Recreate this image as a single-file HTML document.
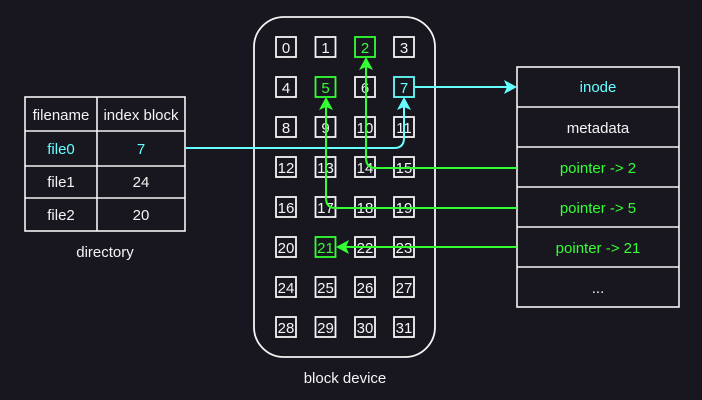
<!DOCTYPE html>
<html><head><meta charset="utf-8"><style>
html,body{margin:0;padding:0;background:#18161f;}
svg{display:block}
text{font-family:"Liberation Sans",Arial,sans-serif;font-size:15px;}
</style></head><body>
<svg width="702" height="400" viewBox="0 0 702 400" xmlns="http://www.w3.org/2000/svg">
<rect width="702" height="400" fill="#18161f"/>
<g stroke="#f4f4f4" stroke-width="1.6" fill="none">
<rect x="25" y="97" width="160" height="134"/>
<line x1="97" y1="97" x2="97" y2="231"/>
<line x1="25" y1="131" x2="185" y2="131"/>
<line x1="25" y1="166" x2="185" y2="166"/>
<line x1="25" y1="198" x2="185" y2="198"/>
</g>
<g text-anchor="middle" fill="#f4f4f4">
<text x="61" y="120">filename</text><text x="141" y="120">index block</text>
<text x="61" y="154" fill="#66ffff">file0</text><text x="141" y="154" fill="#66ffff">7</text>
<text x="61" y="187">file1</text><text x="141" y="187">24</text>
<text x="61" y="220">file2</text><text x="141" y="220">20</text>
<text x="105" y="257">directory</text>
<text x="345" y="383">block device</text>
</g>
<rect x="254" y="17" width="181" height="340" rx="30" fill="none" stroke="#f4f4f4" stroke-width="1.8"/>
<g id="cells" text-anchor="middle"></g>
<g stroke="#f4f4f4" stroke-width="1.6" fill="none">
<rect x="517" y="67" width="162" height="240"/>
<line x1="517" y1="107" x2="679" y2="107"/>
<line x1="517" y1="147" x2="679" y2="147"/>
<line x1="517" y1="187" x2="679" y2="187"/>
<line x1="517" y1="227" x2="679" y2="227"/>
<line x1="517" y1="267" x2="679" y2="267"/>
</g>
<g text-anchor="middle">
<text x="598" y="92" fill="#66ffff">inode</text>
<text x="598" y="133" fill="#f4f4f4">metadata</text>
<text x="598" y="173" fill="#33ff33">pointer -&gt; 2</text>
<text x="598" y="213" fill="#33ff33">pointer -&gt; 5</text>
<text x="598" y="253" fill="#33ff33">pointer -&gt; 21</text>
<text x="598" y="293" fill="#f4f4f4">...</text>
</g>
<g fill="none" stroke-width="2">
<path d="M185 148 H394 Q404 148 404 138 V104" stroke="#66ffff"/>
<path d="M415 87 H508" stroke="#66ffff"/>
<path d="M517 168 H376 Q366 168 366 158 V64" stroke="#33ff33"/>
<path d="M517 208 H336 Q326 208 326 198 V104" stroke="#33ff33"/>
<path d="M517 247 H345" stroke="#33ff33"/>
</g>
<g>
<path d="M404 97 L397 110 L404 107 L411 110 Z" fill="#66ffff"/>
<path d="M517 87 L504 80 L507 87 L504 94 Z" fill="#66ffff"/>
<path d="M366 57 L359 70 L366 67 L373 70 Z" fill="#33ff33"/>
<path d="M326 97 L319 110 L326 107 L333 110 Z" fill="#33ff33"/>
<path d="M336 247 L349 240 L346 247 L349 254 Z" fill="#33ff33"/>
</g>
<script>
var xs=[286,325.5,365,404],ys=[47,87,127,167,207,247,287,327];
var g=document.getElementById('cells'),ns="http://www.w3.org/2000/svg";
for(var i=0;i<32;i++){var r=Math.floor(i/4),c=i%4,x=xs[c],y=ys[r];
var col="#f4f4f4";if(i==2||i==5||i==21)col="#33ff33";if(i==7)col="#66ffff";
var rc=document.createElementNS(ns,'rect');rc.setAttribute('x',x-10);rc.setAttribute('y',y-10);rc.setAttribute('width',20);rc.setAttribute('height',20);
rc.setAttribute('fill','none');rc.setAttribute('stroke',col);rc.setAttribute('stroke-width','1.8');g.appendChild(rc);
var t=document.createElementNS(ns,'text');t.setAttribute('x',x);t.setAttribute('y',y+6);t.setAttribute('fill',col);t.setAttribute('font-size','16');t.textContent=i;g.appendChild(t);}
</script>
</svg>
</body></html>
